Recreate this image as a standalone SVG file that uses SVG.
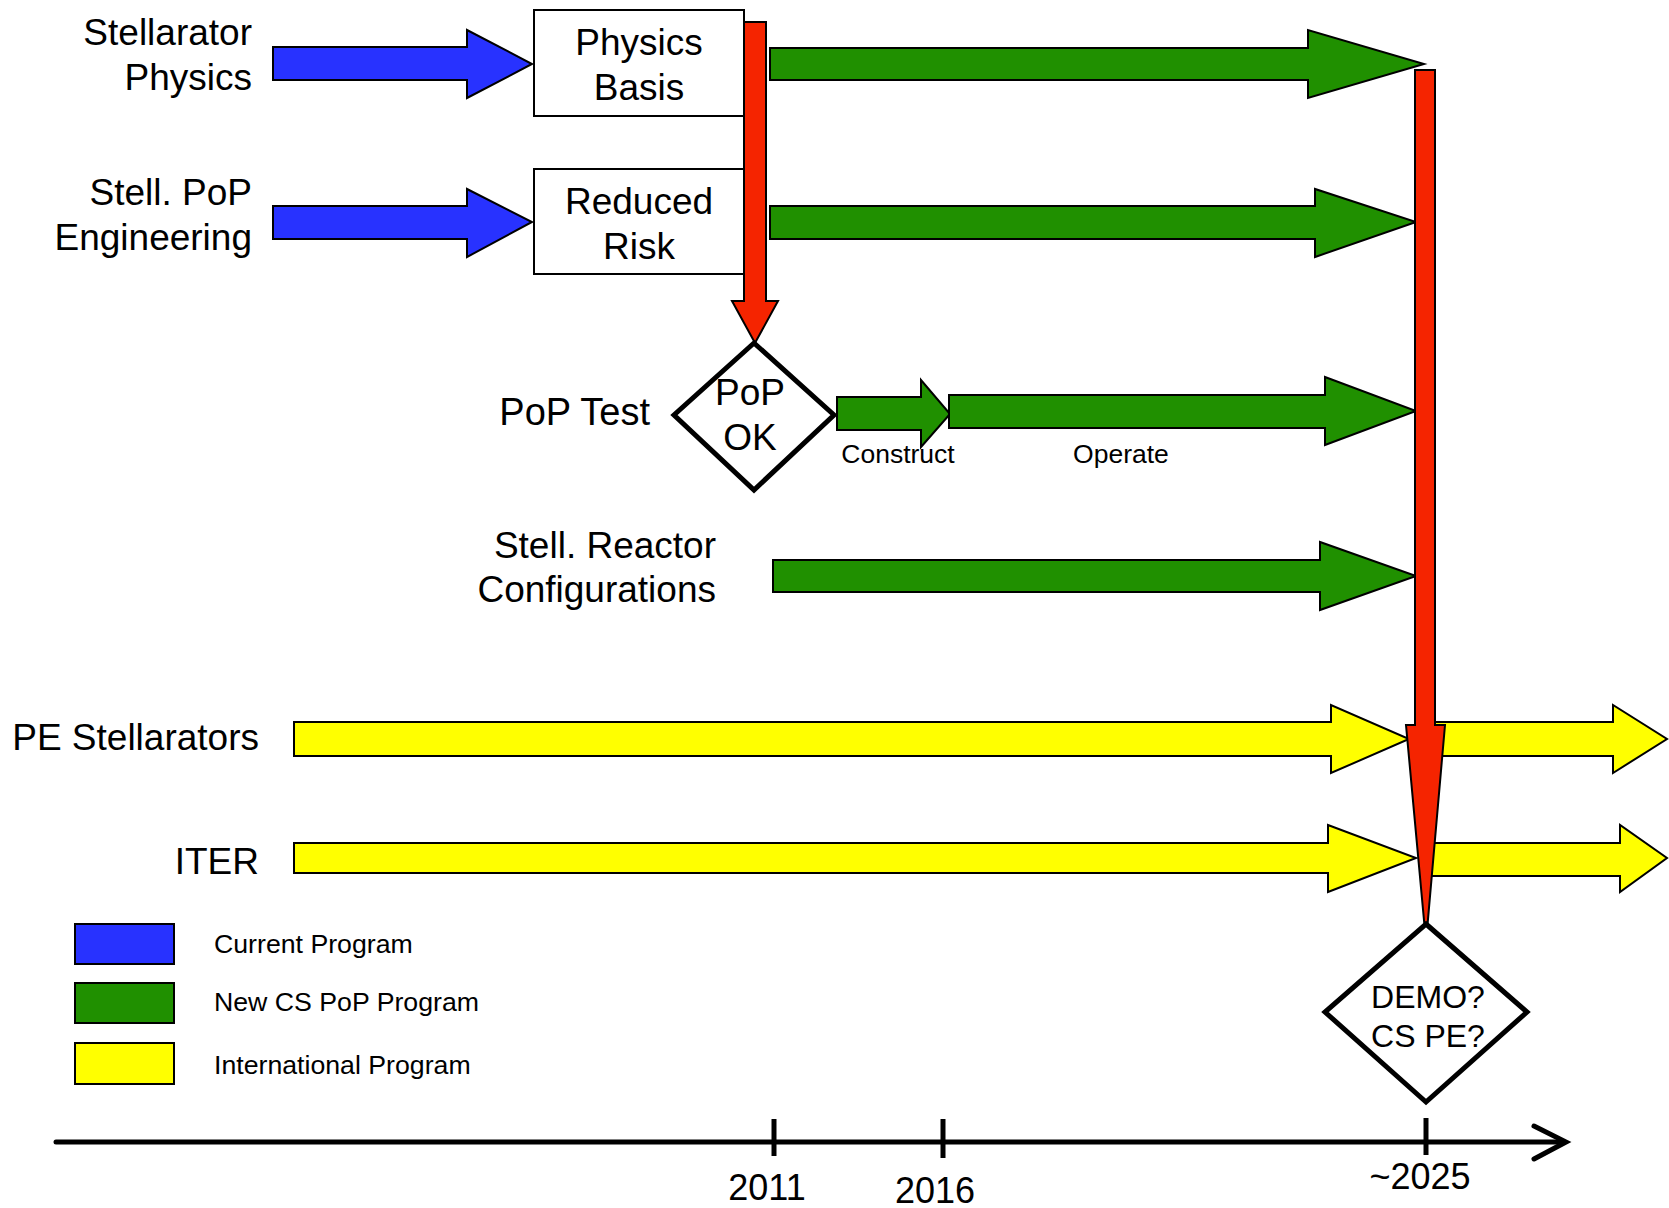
<svg xmlns="http://www.w3.org/2000/svg" width="1669" height="1208" viewBox="0 0 1669 1208">
<style>
text{font-family:"Liberation Sans",Arial,sans-serif;fill:#000}
.lbl{font-size:37px}
.box{font-size:37px}
.sm{font-size:26.5px}
.leg{font-size:26.7px}
.yr{font-size:36px}
.blue{fill:#2832FF;stroke:#000;stroke-width:2}
.green{fill:#209000;stroke:#000;stroke-width:2}
.yellow{fill:#FFFF00;stroke:#000;stroke-width:2}
.red{fill:#F52400;stroke:#000;stroke-width:2}
.rect{fill:#fff;stroke:#000;stroke-width:2}
.dia{fill:#fff;stroke:#000;stroke-width:5}
.axis{stroke:#000;stroke-width:5;fill:none;stroke-linecap:round}
</style>

<g id="labels">
<text class="lbl" x="252" y="45" text-anchor="end">Stellarator</text>
<text class="lbl" x="252" y="90" text-anchor="end">Physics</text>
<text class="lbl" x="252" y="205" text-anchor="end">Stell. PoP</text>
<text class="lbl" x="252" y="250" text-anchor="end">Engineering</text>
<text class="lbl" x="650" y="425" text-anchor="end" style="font-size:38px">PoP Test</text>
<text class="lbl" x="716" y="558" text-anchor="end">Stell. Reactor</text>
<text class="lbl" x="716" y="602" text-anchor="end">Configurations</text>
<text class="lbl" x="259" y="750" text-anchor="end">PE Stellarators</text>
<text class="lbl" x="259" y="874" text-anchor="end">ITER</text>
</g>

<g id="connectors">
<polygon class="yellow" points="294,722 1331,722 1331,705 1409,739 1331,773 1331,756 294,756"/>
<polygon class="yellow" points="1420,722 1613,722 1613,705 1667,739 1613,773 1613,756 1420,756"/>
<polygon class="yellow" points="294,843 1328,843 1328,825 1416,858 1328,892 1328,873 294,873"/>
<polygon class="yellow" points="1420,843 1620,843 1620,825 1667,858 1620,892 1620,876 1420,876"/>
<polygon class="blue" points="273,47 467,47 467,30 532,64 467,98 467,80 273,80"/>
<polygon class="blue" points="273,206 467,206 467,189 532,222 467,257 467,239 273,239"/>
<polygon class="green" points="770,48 1308,48 1308,30 1424,64 1308,98 1308,80 770,80"/>
<polygon class="green" points="770,206 1315,206 1315,189 1416,222 1315,257 1315,239 770,239"/>
<polygon class="green" points="837,397 921,397 921,380 950,414 921,447 921,430 837,430"/>
<polygon class="green" points="949,395 1325,395 1325,377 1416,411 1325,445 1325,428 949,428"/>
<polygon class="green" points="773,560 1320,560 1320,542 1416,576 1320,610 1320,592 773,592"/>
<polygon class="red" points="744,22 766,22 766,301 778,301 755,343 732,301 744,301"/>
<polygon class="red" points="1415,70 1435,70 1435,725 1445,725 1426,942 1406,725 1415,725"/>
</g>

<g id="physics-basis">
<rect class="rect" x="534" y="10" width="210" height="106"/>
<text class="box" x="639" y="55" text-anchor="middle">Physics</text>
<text class="box" x="639" y="100" text-anchor="middle">Basis</text>
</g>

<g id="reduced-risk">
<rect class="rect" x="534" y="169" width="210" height="105"/>
<text class="box" x="639" y="214" text-anchor="middle">Reduced</text>
<text class="box" x="639" y="259" text-anchor="middle">Risk</text>
</g>

<g id="pop-ok">
<polygon class="dia" points="754,343 834,415 754,490 674,415"/>
<text class="box" x="750" y="405" text-anchor="middle">PoP</text>
<text class="box" x="750" y="450" text-anchor="middle">OK</text>
</g>

<g id="phase-labels">
<text class="sm" x="898" y="463" text-anchor="middle">Construct</text>
<text class="sm" x="1121" y="463" text-anchor="middle">Operate</text>
</g>

<g id="demo">
<polygon class="dia" points="1426,924 1527,1012 1426,1102 1325,1012"/>
<text x="1428" y="1008" text-anchor="middle" style="font-size:32px">DEMO?</text>
<text x="1428" y="1047" text-anchor="middle" style="font-size:32px">CS PE?</text>
</g>

<g id="legend">
<rect class="blue" x="75" y="924" width="99" height="40"/>
<rect class="green" x="75" y="983" width="99" height="40"/>
<rect class="yellow" x="75" y="1043" width="99" height="41"/>
<text class="leg" x="214" y="953">Current Program</text>
<text class="leg" x="214" y="1011">New CS PoP Program</text>
<text class="leg" x="214" y="1074">International Program</text>
</g>

<g id="axis">
<line class="axis" x1="56" y1="1142" x2="1564" y2="1142"/>
<polyline class="axis" points="1534,1126 1566,1142 1534,1159"/>
<line class="axis" x1="774" y1="1119" x2="774" y2="1156" style="stroke-linecap:butt"/>
<line class="axis" x1="943" y1="1119" x2="943" y2="1158" style="stroke-linecap:butt"/>
<line class="axis" x1="1426" y1="1118" x2="1426" y2="1155" style="stroke-linecap:butt"/>
<text class="yr" x="767" y="1200" text-anchor="middle">2011</text>
<text class="yr" x="935" y="1203" text-anchor="middle">2016</text>
<text class="yr" x="1420" y="1189" text-anchor="middle">~2025</text>
</g>
</svg>
